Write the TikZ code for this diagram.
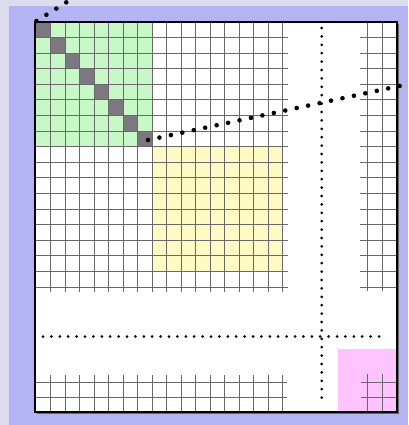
\documentclass[tikz,border=0pt]{standalone}
\usetikzlibrary{calc}
\definecolor{bgouter}{RGB}{220,220,236}
\definecolor{bgblue}{RGB}{180,180,245}
\definecolor{cgreen}{RGB}{200,248,200}
\definecolor{cyellow}{RGB}{255,250,195}
\definecolor{cpink}{RGB}{255,196,255}
\definecolor{cdiag}{RGB}{125,120,128}
\definecolor{cgrid}{RGB}{105,105,105}
\tikzset{
  gridline/.style={draw=cgrid, line width=1pt},
  smalldots/.style={draw=black, line width=3pt, line cap=round, dash pattern=on 0pt off 8.4pt},
  bigdots/.style={draw=black, line width=4.6pt, line cap=round, dash pattern=on 0pt off 11.7pt},
  panel/.style={fill=white, draw=black, line width=1.2pt},
}
\begin{document}
\begin{tikzpicture}[x=1pt,y=-1pt]
\useasboundingbox (0,0) rectangle (408,425);
\clip (0,0) rectangle (408,425);
% backgrounds
\fill[bgouter] (0,0) rectangle (408,425);
\fill[bgblue] (9,6) rectangle (408,425);
% panel shadow and panel
\draw[draw=black!60, line width=1.6pt] (398,24) -- (398,413) -- (37,413);
\path[panel] (35,22) rectangle (397,412);
% coloured blocks
\def\cw{14.51}
\def\rh{15.59}
\fill[cgreen] (36,22) rectangle ({36+8*\cw},{22+8*\rh});
\fill[cyellow] ({36+8*\cw},{22+8*\rh}) rectangle ({36+17*\cw},{22+16*\rh});
\fill[cpink] (338,349) rectangle (397,412);
\foreach \i in {0,...,7}{
  \fill[cdiag] ({36+\i*\cw},{22+\i*\rh}) rectangle ({36+(\i+1)*\cw},{22+(\i+1)*\rh});
}
% left/top grid section
\foreach \i in {1,...,17}{
  \draw[gridline] ({36+\i*\cw},22) -- ({36+\i*\cw},292);
  \draw[gridline] (36,{22+\i*\rh}) -- (288,{22+\i*\rh});
}
% bottom section
\foreach \i in {1,...,17}{
  \draw[gridline] ({36+\i*\cw},375) -- ({36+\i*\cw},412);
}
\foreach \y in {382.7,397}{
  \draw[gridline] (36,\y) -- (287,\y);
}
% right section
\foreach \x in {367.7,382.2}{
  \draw[gridline] (\x,22) -- (\x,291);
  \draw[gridline] (\x,374) -- (\x,412);
}
\foreach \i in {1,...,17}{
  \draw[gridline] (360,{22+\i*\rh}) -- (397,{22+\i*\rh});
}
\foreach \y in {382.7,397}{
  \draw[gridline] (361,\y) -- (397,\y);
}
% panel border on top
\draw[draw=black, line width=1.2pt] (35,22) rectangle (397,412);
% dotted separators
\coordinate (hL) at (43,336.5);
\coordinate (hR) at (386,336.5);
\coordinate (vT) at (321.7,28);
\coordinate (vB) at (321.7,404);
\draw[smalldots] (hL) -- (hR);
\draw[smalldots] (vT) -- (vB);
% zoom lines
\coordinate (zA) at (36.5,21);
\coordinate (zA2) at (86,-10);
\coordinate (zB) at (148,140);
\coordinate (zB2) at (430,79.4);
\draw[bigdots] (zA) -- (zA2);
\draw[bigdots] (zB) -- (zB2);
\end{tikzpicture}
\end{document}
